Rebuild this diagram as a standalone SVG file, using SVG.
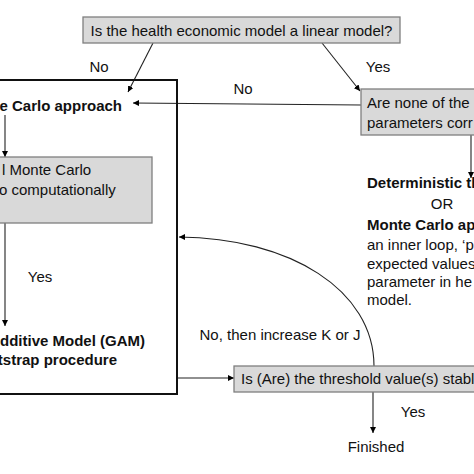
<svg xmlns="http://www.w3.org/2000/svg" width="474" height="474" viewBox="0 0 474 474">
<defs>
<marker id="ah" viewBox="0 0 6 6" refX="6" refY="3" markerWidth="6" markerHeight="6" markerUnits="userSpaceOnUse" orient="auto">
<path d="M0,0 L6,3 L0,6 z" fill="#000"/>
</marker>
<style>
.t{font-family:"Liberation Sans",Arial,sans-serif;font-size:15px;fill:#111}
.b{font-weight:bold}
.box{fill:#d9d9d9;stroke:#7f7f7f;stroke-width:1.3}
.c{fill:none;stroke:#222;stroke-width:1.1;marker-end:url(#ah)}
</style>
</defs>
<rect width="474" height="474" fill="#fff"/>
<g id="connectors">
<line class="c" x1="153" y1="43" x2="128" y2="92"/>
<line class="c" x1="322" y1="43" x2="360" y2="91"/>
<line class="c" x1="361" y1="105" x2="133" y2="103"/>
<line class="c" x1="471" y1="135" x2="471" y2="178"/>
<line class="c" x1="5" y1="115" x2="5" y2="157"/>
<line class="c" x1="5" y1="223" x2="5" y2="326"/>
<line class="c" x1="178" y1="378" x2="234" y2="378"/>
<line class="c" x1="373" y1="392" x2="373" y2="433"/>
<path class="c" d="M374,366 C374,290 290,238 179,237"/>
</g>
<g id="n-linear">
<rect class="box" x="83" y="17" width="317" height="26"/>
<text class="t" x="241.5" y="35.5" text-anchor="middle">Is the health economic model a linear model?</text>
</g>
<g id="n-mc">
<rect x="-10" y="80" width="187" height="314" fill="none" stroke="#111" stroke-width="2"/>
<text class="t b" x="122" y="111" text-anchor="end">te Carlo approach</text>
</g>
<g id="n-expensive">
<rect class="box" x="-10" y="157" width="162" height="66"/>
<text class="t" x="2" y="175">l Monte Carlo</text>
<text class="t" x="-1" y="195">o computationally</text>
</g>
<g id="n-gam">
<text class="t b" x="145" y="346" text-anchor="end">Additive Model (GAM)</text>
<text class="t b" x="117" y="365" text-anchor="end">otstrap procedure</text>
</g>
<g id="n-corr">
<rect class="box" x="361" y="89" width="130" height="46"/>
<text class="t" x="367" y="108">Are none of the</text>
<text class="t" x="367" y="128">parameters corr</text>
</g>
<g id="n-det">
<text class="t b" x="367" y="188">Deterministic th</text>
<text class="t" x="442" y="209" text-anchor="middle">OR</text>
<text class="t b" x="367" y="230">Monte Carlo app</text>
<text class="t" x="367" y="250">an inner loop, ‘p</text>
<text class="t" x="367" y="269">expected values</text>
<text class="t" x="367" y="287">parameter in he</text>
<text class="t" x="367" y="305">model.</text>
</g>
<g id="n-stable">
<rect class="box" x="234" y="366" width="260" height="26"/>
<text class="t" x="241" y="383.5">Is (Are) the threshold value(s) stabl</text>
</g>
<g id="n-finished">
<text class="t" x="376" y="452" text-anchor="middle">Finished</text>
</g>
<g id="labels">
<text class="t" x="99" y="72" text-anchor="middle">No</text>
<text class="t" x="378" y="72" text-anchor="middle">Yes</text>
<text class="t" x="243" y="94" text-anchor="middle">No</text>
<text class="t" x="40" y="282" text-anchor="middle">Yes</text>
<text class="t" x="280" y="340" text-anchor="middle">No, then increase K or J</text>
<text class="t" x="413" y="417" text-anchor="middle">Yes</text>
</g>
</svg>
